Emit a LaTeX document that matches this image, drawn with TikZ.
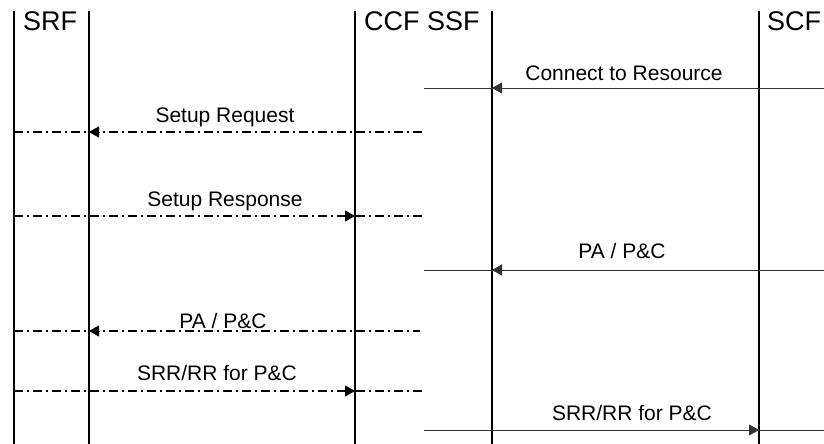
\documentclass[tikz,border=0pt]{standalone}
\usepackage{fontspec}
\setmainfont{Liberation Sans}
\usetikzlibrary{arrows.meta}
\tikzset{
  lifeline/.style={line width=2pt, black},
  title/.style={inner sep=0pt, anchor=base west, font=\fontsize{27}{27}\selectfont},
  msglabel/.style={inner sep=0pt, anchor=base, font=\fontsize{21}{21}\selectfont},
  solidmsg/.style={line width=1pt, black!80},
  dashmsg/.style={line width=1.6pt, black, dash pattern=on 9pt off 4pt on 2pt off 4pt},
  tip/.style={-{Triangle[length=10pt,width=11pt]}},
  tiponly/.style={line width=1pt, black, -{Triangle[length=10pt,width=11pt]}}
}
\begin{document}
\begin{tikzpicture}[x=1pt,y=-1pt]
\useasboundingbox (0,0) rectangle (824,444);
% lifelines
\coordinate (srfL) at (14,11);
\coordinate (srfR) at (89,11);
\coordinate (ccf) at (355,11);
\coordinate (ssf) at (492,11);
\coordinate (scf) at (759,11);
\foreach \n in {srfL,srfR,ccf,ssf,scf}
  \draw[lifeline] (\n) -- (\n |- 0,444);
% titles
\node[title] (tSRF) at (23,31) {SRF};
\node[title] (tCS) at (364,31) {CCF SSF};
\node[title] (tSCF) at (767,31) {SCF};

% 1 Connect to Resource (solid, right to left, tip at SSF)
\coordinate (m1a) at (424,88);
\coordinate (m1b) at (824,88);
\draw[solidmsg] (m1a) -- (m1b);
\draw[solidmsg,tip] (m1b) -- (ssf |- m1b);
\node[msglabel] (l1) at (624,81) {Connect to Resource};

% 2 Setup Request (dash-dot, tip at SRF right)
\coordinate (m2a) at (14,132);
\coordinate (m2b) at (424,132);
\draw[dashmsg] (m2a) -- (m2b);
\draw[tiponly] ([xshift=11pt]srfR |- m2b) -- (srfR |- m2b);
\node[msglabel] (l2) at (225,122) {Setup Request};

% 3 Setup Response (dash-dot, tip at CCF)
\coordinate (m3a) at (14,216);
\coordinate (m3b) at (424,216);
\draw[dashmsg] (m3a) -- (m3b);
\draw[tiponly] ([xshift=-11pt]ccf |- m3a) -- (ccf |- m3a);
\node[msglabel] (l3) at (225,206) {Setup Response};

% 4 PA / P&C (solid, tip at SSF)
\coordinate (m4a) at (424,270);
\coordinate (m4b) at (824,270);
\draw[solidmsg] (m4a) -- (m4b);
\draw[solidmsg,tip] (m4b) -- (ssf |- m4b);
\node[msglabel] (l4) at (622,258) {PA / P\&C};

% 5 PA / P&C (dash-dot, tip at SRF right)
\coordinate (m5a) at (14,331);
\coordinate (m5b) at (420,331);
\draw[dashmsg] (m5a) -- (m5b);
\draw[tiponly] ([xshift=11pt]srfR |- m5b) -- (srfR |- m5b);
\node[msglabel] (l5) at (223,328) {PA / P\&C};

% 6 SRR/RR for P&C (dash-dot, tip at CCF)
\coordinate (m6a) at (14,391);
\coordinate (m6b) at (424,391);
\draw[dashmsg] (m6a) -- (m6b);
\draw[tiponly] ([xshift=-11pt]ccf |- m6a) -- (ccf |- m6a);
\node[msglabel] (l6) at (217,380) {SRR/RR for P\&C};

% 7 SRR/RR for P&C (solid, tip at SCF)
\coordinate (m7a) at (424,430);
\coordinate (m7b) at (824,430);
\draw[solidmsg] (m7a) -- (m7b);
\draw[solidmsg,tip] (m7a) -- (scf |- m7a);
\node[msglabel] (l7) at (632,420) {SRR/RR for P\&C};
\end{tikzpicture}
\end{document}
